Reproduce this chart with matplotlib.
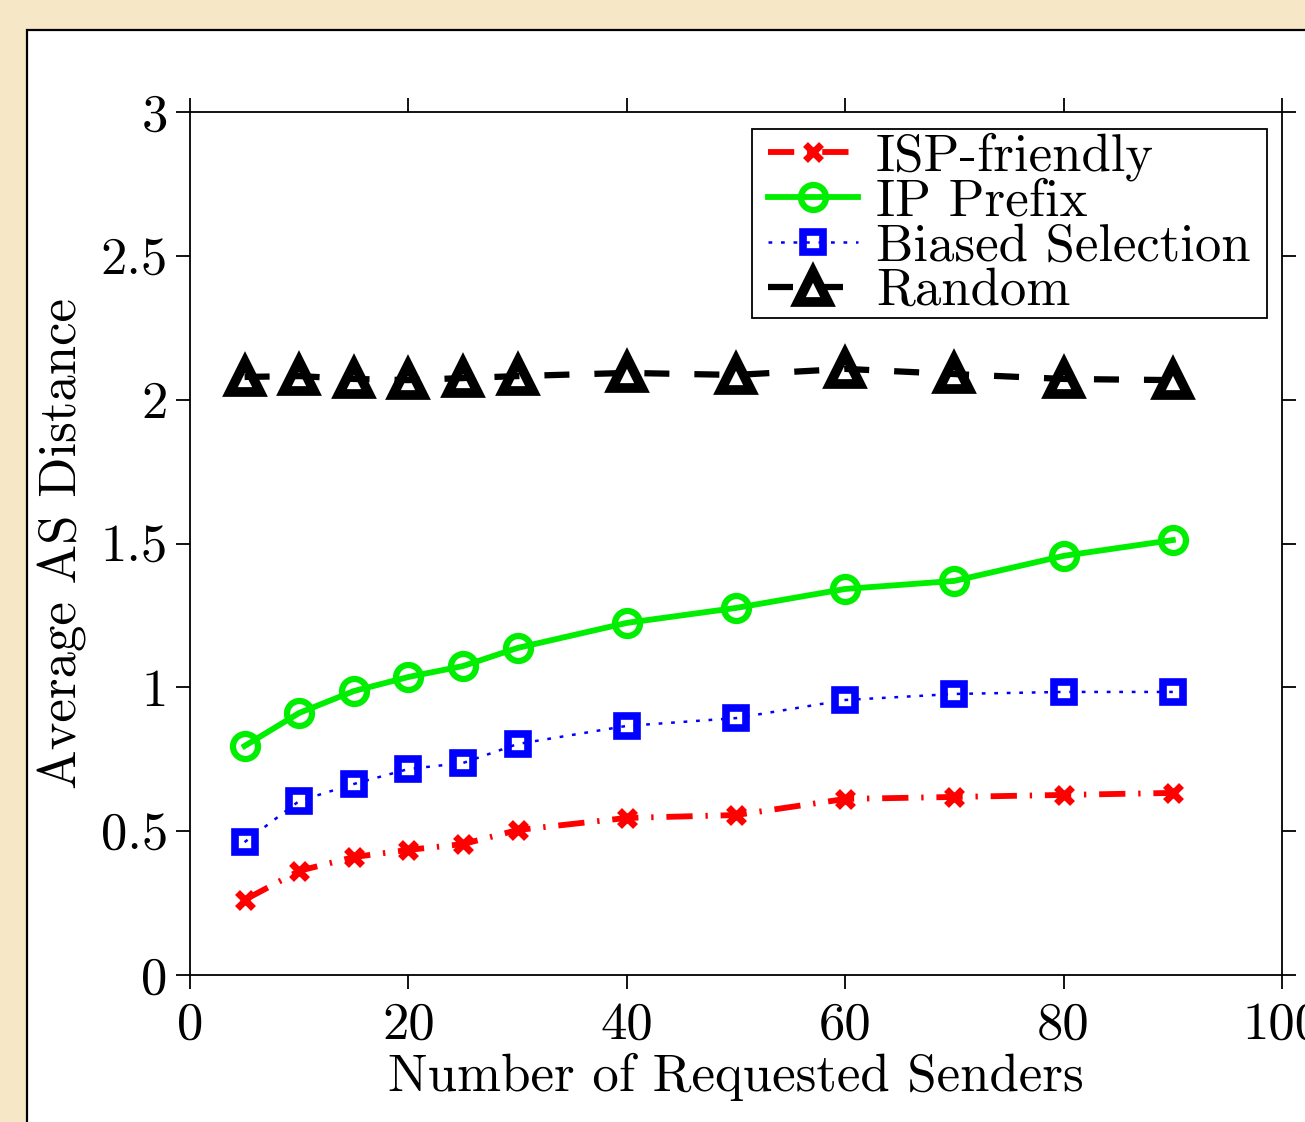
import matplotlib
matplotlib.use('Agg')
import matplotlib.pyplot as plt
from matplotlib.patches import Rectangle

plt.rcParams['font.family'] = ['cmr10', 'DejaVu Serif']
plt.rcParams['mathtext.fontset'] = 'cm'
plt.rcParams['axes.formatter.use_mathtext'] = True

senders = [5, 10, 15, 20, 25, 30, 40, 50, 60, 70, 80, 90]
isp_friendly = [0.261, 0.362, 0.410, 0.435, 0.455, 0.504, 0.546, 0.556, 0.612, 0.619, 0.626, 0.633]
ip_prefix = [0.796, 0.911, 0.987, 1.036, 1.074, 1.137, 1.224, 1.276, 1.342, 1.370, 1.457, 1.512]
biased = [0.462, 0.605, 0.664, 0.716, 0.737, 0.803, 0.866, 0.893, 0.956, 0.977, 0.984, 0.984]
random_sel = [2.079, 2.082, 2.072, 2.068, 2.075, 2.082, 2.093, 2.086, 2.107, 2.089, 2.072, 2.068]

xticks = [0, 20, 40, 60, 80, 100]
yticks = [0, 0.5, 1, 1.5, 2, 2.5, 3]
ytick_labels = ['0', '0.5', '1', '1.5', '2', '2.5', '3']

fig = plt.figure(figsize=(13.05, 11.22), dpi=100)
fig.patch.set_facecolor('#f6e7c6')
# white panel of the slide
fig.patches.append(Rectangle((27 / 1305, -0.05), 1.2, 1 - 30 / 1122 + 0.05,
                             transform=fig.transFigure, facecolor='white',
                             edgecolor='black', linewidth=1.6, zorder=-10))

ax = fig.add_axes([190 / 1305, 1 - 975 / 1122, 1092 / 1305, 863 / 1122])
ax.set_zorder(1)

ax.plot(senders, isp_friendly, color='red', linestyle=(0, (4.5, 2.2, 0.4, 2.2)), linewidth=4.2,
        marker='x', markersize=12, markeredgewidth=5, label='ISP-friendly')
ax.plot(senders, ip_prefix, color='#00ee00', linestyle='-', linewidth=4.2,
        marker='o', markersize=18, markeredgewidth=4.5, markerfacecolor='none', label='IP Prefix')
ax.plot(senders, biased, color='blue', linestyle=(0, (1.5, 3.5)), linewidth=1.8,
        marker='s', markersize=15, markeredgewidth=5.5, markerfacecolor='none', label='Biased Selection')
ax.plot(senders, random_sel, color='black', linestyle=(0, (4, 4)), linewidth=4.5,
        marker='^', markersize=22, markeredgewidth=7, markerfacecolor='none', label='Random')

ax.set_xlim(0, 100)
ax.set_ylim(0, 3)
ax.set_xticks(xticks)
ax.set_xticklabels([str(t) for t in xticks])
ax.set_yticks(yticks)
ax.set_yticklabels(ytick_labels)
ax.tick_params(direction='out', length=10, width=1.3, labelsize=38, top=True, right=True, pad=6)
ax.tick_params(axis='x', pad=9)
for s in ax.spines.values():
    s.set_linewidth(1.3)

ax.set_xlabel('Number of Requested Senders', fontsize=38, labelpad=3)
ax.set_ylabel('Average AS Distance', fontsize=38, labelpad=10)

leg = ax.legend(loc='upper right', bbox_to_anchor=(0.9735, 0.98), fontsize=38,
                handlelength=1.7, handletextpad=0.34, labelspacing=-0.04,
                borderpad=0.05, borderaxespad=0, fancybox=False, frameon=False)
leg.set_zorder(6)

# legend box, wider than the entries like in the original
fig.canvas.draw()
bb = leg.get_window_extent()
box = Rectangle((bb.x0 - 13, bb.y0), bb.width + 27, bb.height, transform=None,
                facecolor='white', edgecolor='black', linewidth=1.3, zorder=5)
ax.add_patch(box)

fig.savefig('out.png', dpi=100, facecolor=fig.get_facecolor())
